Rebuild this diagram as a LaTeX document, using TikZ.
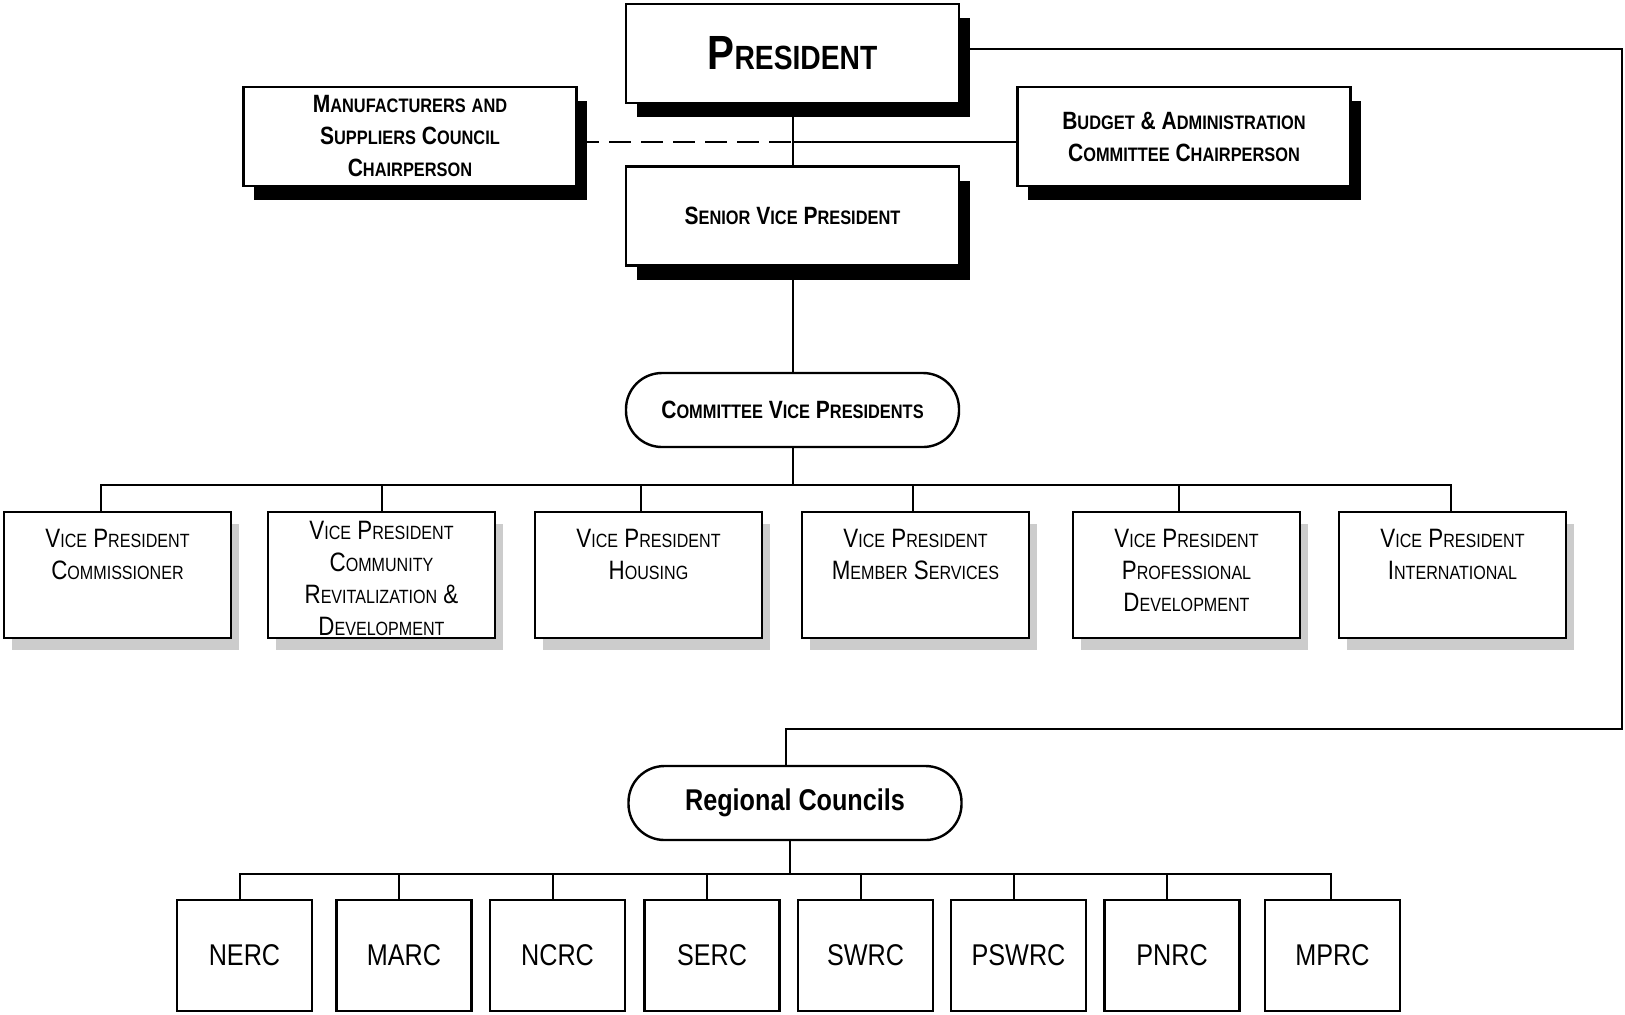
\documentclass[tikz,border=0pt]{standalone}
\usepackage{fontspec}
\setmainfont{Liberation Sans}[FakeStretch=0.84]
\usetikzlibrary{shadows}

% small caps made by hand: first letter full size, the rest smaller
\makeatletter
\newcommand\scr{0.75}
\newcommand\scs[1]{{\fontsize{\fpeval{\scr*\f@size}}{\f@baselineskip}\selectfont\MakeUppercase{#1}}}
\def\swx#1#2\relax{#1\scs{#2}}
\newcommand\sw[1]{\swx#1\relax}
\makeatother

% text of a vice president box, set from the top
\newcommand\vpt[2][8.5pt]{\parbox[c][63pt][t]{113.5pt}{\centering\vspace*{#1}#2}}

\begin{document}
\begin{tikzpicture}[x=0.5pt, y=-0.5pt,
    link/.style={line width=1pt, line cap=rect},
    topbox/.style={draw, line width=1.2pt, fill=white, align=center,
        minimum width=166.5pt, minimum height=49.5pt, inner sep=0pt,
        font=\bfseries\fontsize{12.5}{16}\selectfont\def\scr{0.78},
        drop shadow={shadow xshift=5.25pt, shadow yshift=-7pt, fill=black, opacity=1}},
    oval/.style={draw, line width=1.2pt, fill=white, rounded corners=18pt,
        minimum width=166.5pt, minimum height=37pt, inner sep=0pt},
    vpbox/.style={draw, line width=1.4pt, fill=white, inner sep=0pt,
        font=\fontsize{13.3}{16}\selectfont\def\scr{0.72},
        drop shadow={shadow xshift=4pt, shadow yshift=-6pt, fill=black!20, opacity=1}},
    rcbox/.style={draw, line width=1.2pt, minimum width=67.5pt, minimum height=55.5pt,
        inner sep=0pt, font=\fontsize{15}{18}\selectfont}]
\useasboundingbox (0,0) rectangle (1625,1014);

% top of the chart
\node[topbox, font=\bfseries\fontsize{24}{28}\selectfont\def\scr{0.7}] (pres) at (792.5,53.5) {\sw{President}};
\node[topbox] (mfr) at (410,136.5) {\sw{Manufacturers} \scs{and}\\ \sw{Suppliers} \sw{Council}\\ \sw{Chairperson}};
\node[topbox] (bud) at (1184,136.5) {\sw{Budget} \& \sw{Administration}\\ \sw{Committee} \sw{Chairperson}};
\node[topbox] (svp) at (792.5,216) {\sw{Senior} \sw{Vice} \sw{President}};
\node[oval, font=\bfseries\fontsize{12.5}{16}\selectfont\def\scr{0.78}] (cvp) at (792.5,410) {\sw{Committee} \sw{Vice} \sw{Presidents}};

% committee vice presidents
\node[vpbox] (vp1) at (117.5,575) {\vpt{\sw{Vice} \sw{President}\\ \sw{Commissioner}}};
\node[vpbox] (vp2) at (381.5,575) {\vpt[4.5pt]{\sw{Vice} \sw{President}\\ \sw{Community}\\ \sw{Revitalization} \&\\ \sw{Development}}};
\node[vpbox] (vp3) at (648.5,575) {\vpt{\sw{Vice} \sw{President}\\ \sw{Housing}}};
\node[vpbox] (vp4) at (915.5,575) {\vpt{\sw{Vice} \sw{President}\\ \sw{Member} \sw{Services}}};
\node[vpbox] (vp5) at (1186.5,575) {\vpt{\sw{Vice} \sw{President}\\ \sw{Professional}\\ \sw{Development}}};
\node[vpbox] (vp6) at (1452.5,575) {\vpt{\sw{Vice} \sw{President}\\ \sw{International}}};

% regional councils
\node[oval, font=\bfseries\fontsize{15}{18}\selectfont] (reg) at (795,803) {Regional Councils};
\node[rcbox] (rc1) at (244.5,955.5) {NERC};
\node[rcbox] (rc2) at (404,955.5) {MARC};
\node[rcbox] (rc3) at (557.5,955.5) {NCRC};
\node[rcbox] (rc4) at (712,955.5) {SERC};
\node[rcbox] (rc5) at (865.5,955.5) {SWRC};
\node[rcbox] (rc6) at (1018.5,955.5) {PSWRC};
\node[rcbox] (rc7) at (1172,955.5) {PNRC};
\node[rcbox] (rc8) at (1332.5,955.5) {MPRC};

% connectors
\coordinate (mid) at (792.5,142);
\coordinate (vpbus) at (792.5,485);
\coordinate (rside) at (1622,729);
\coordinate (rcbus) at (790,874);

\draw[link] (pres) -- (svp);
\draw[link, dash pattern=on 10pt off 6pt] (mfr.east |- mid) -- (mid);
\draw[link] (mid) -- (bud.west |- mid);
\draw[link] (svp) -- (cvp);

\draw[link] (cvp) -- (vpbus);
\draw[link] ([xshift=-8.5pt]vp1.north |- vpbus) -- ([xshift=-0.75pt]vp6.north |- vpbus);
\foreach \n/\s in {vp1/-8.5, vp2/0, vp3/-4, vp4/-1.5, vp5/-4, vp6/-0.75}
    \draw[link] ([xshift=\s pt]\n.north) -- ([xshift=\s pt]\n.north |- vpbus);

\draw[link] ([yshift=2.25pt]pres.east) -- ([yshift=2.25pt]pres.east -| rside) -- (rside) -| ([xshift=-4.5pt]reg.north);

\draw[link] ([xshift=-2.5pt]reg.south) -- (rcbus);
\draw[link] ([xshift=-2.5pt]rc1.north |- rcbus) -- ([xshift=-1pt]rc8.north |- rcbus);
\foreach \n in {rc1,rc2,rc3,rc4,rc5,rc6,rc7}
    \draw[link] ([xshift=-2.5pt]\n.north) -- ([xshift=-2.5pt]\n.north |- rcbus);
\draw[link] ([xshift=-1pt]rc8.north) -- ([xshift=-1pt]rc8.north |- rcbus);
\end{tikzpicture}
\end{document}
